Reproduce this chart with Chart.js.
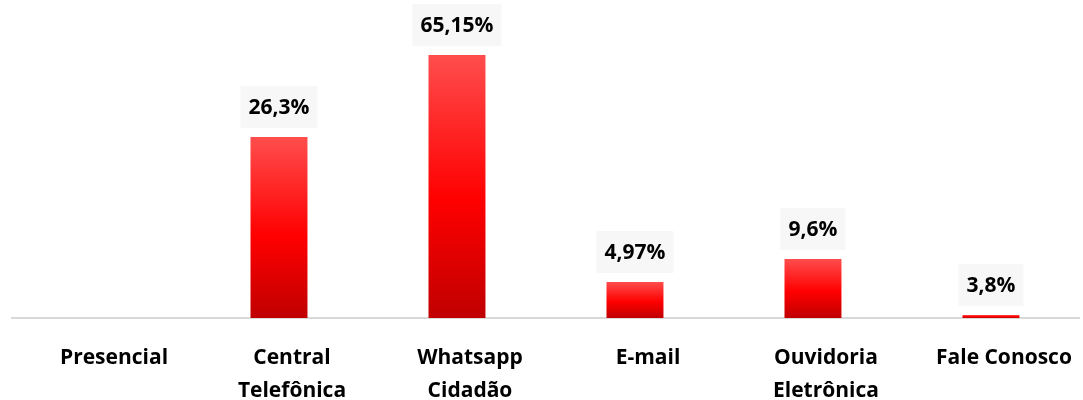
<!DOCTYPE html>
<html>
<head>
<meta charset="utf-8">
<script src="https://cdn.jsdelivr.net/npm/chart.js@4/dist/chart.umd.min.js"></script>
<style>
  html, body { margin: 0; padding: 0; background: #fff; }
  #wrap { width: 1083px; height: 400px; }
</style>
</head>
<body>
<div id="wrap"><canvas id="barChart"></canvas></div>
<script>
// Categories (multi-line tick labels)
const categories = [
  "Presencial",
  ["Central", "Telefônica"],
  ["Whatsapp", "Cidadão"],
  "E-mail",
  ["Ouvidoria", "Eletrônica"],
  "Fale Conosco"
];
// Bar heights as drawn
const barValues = [0, 181, 263, 36, 59, 3];
// Text shown above each bar
const valueLabels = [null, "26,3%", "65,15%", "4,97%", "9,6%", "3,8%"];

const FONT = "'Open Sans', 'Noto Sans', sans-serif";

// Red gradient per bar: light on top, dark at the base
function barGradient(context) {
  const chart = context.chart;
  const { ctx, chartArea, scales } = chart;
  if (!chartArea || !scales.y) return "#ff0000";
  const v = context.raw || 0;
  const top = scales.y.getPixelForValue(v);
  const base = scales.y.getPixelForValue(0);
  if (!isFinite(top) || base - top < 1) return "#ff0000";
  const g = ctx.createLinearGradient(0, top, 0, base);
  g.addColorStop(0, "#ff4d4d");
  g.addColorStop(0.55, "#ff0000");
  g.addColorStop(1, "#c00000");
  return g;
}

// Draws the grey boxed value labels above the bars
const boxLabels = {
  id: "boxLabels",
  afterDatasetsDraw(chart) {
    const ctx = chart.ctx;
    const meta = chart.getDatasetMeta(0);
    ctx.save();
    ctx.font = "bold 21px " + FONT;
    ctx.textAlign = "center";
    ctx.textBaseline = "middle";
    meta.data.forEach((bar, i) => {
      const txt = valueLabels[i];
      if (!txt) return;
      const w = ctx.measureText(txt).width + 16;
      const h = 42;
      const bottom = bar.y - 9;
      ctx.fillStyle = "#f7f7f7";
      ctx.fillRect(bar.x - w / 2, bottom - h, w, h);
      ctx.fillStyle = "#000000";
      ctx.fillText(txt, bar.x, bottom - h / 2 + 1);
    });
    ctx.restore();
  }
};

window.onload = function () {
  const ctx = document.getElementById("barChart").getContext("2d");
  new Chart(ctx, {
    type: "bar",
    data: {
      labels: categories,
      datasets: [
        {
          data: barValues,
          backgroundColor: barGradient,
          borderWidth: 0,
          categoryPercentage: 1,
          barPercentage: 0.32
        }
      ]
    },
    options: {
      responsive: true,
      maintainAspectRatio: false,
      animation: false,
      layout: { padding: { left: 12, right: 1, top: 0, bottom: 0 } },
      plugins: {
        legend: { display: false },
        tooltip: { enabled: false }
      },
      scales: {
        x: {
          grid: { display: false, drawTicks: false },
          border: { display: true, color: "#d9d9d9", width: 2 },
          ticks: {
            color: "#000000",
            padding: 24,
            labelOffset: 13,
            maxRotation: 0,
            autoSkip: false,
            font: { family: FONT, size: 21, weight: "bold", lineHeight: 1.55 }
          },
          afterFit(scale) { scale.height = 82; }
        },
        y: {
          display: false,
          min: 0,
          max: 318
        }
      }
    },
    plugins: [boxLabels]
  });
};
</script>
</body>
</html>
